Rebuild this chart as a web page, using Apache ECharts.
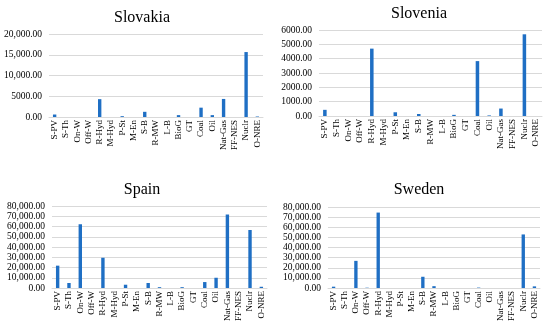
<!DOCTYPE html>
<html>
<head>
<meta charset="utf-8">
<script src="https://cdn.jsdelivr.net/npm/echarts@6/dist/echarts.min.js"></script>
<style>html,body{margin:0;padding:0;background:#fff}#c{width:550px;height:330px}</style>
</head>
<body>
<div id="c"></div>
<script>
const categories = ["S-PV","S-Th","On-W","Off-W","R-Hyd","M-Hyd","P-St","M-En","S-B","R-MW","L-B","BioG","GT","Coal","Oil","Nat-Gas","FF-NES","Nuclr","O-NRE"];
const slovakia = [600,0,0,0,4300,0,200,0,1250,0,0,450,0,2250,450,4350,0,15650,120];
const slovenia = [430,0,0,0,4700,0,260,0,140,0,0,80,0,3830,40,520,0,5700,0];
const spain = [21800,4900,62200,0,29500,0,3200,0,4900,800,0,800,0,5800,10000,71700,0,56600,1200];
const sweden = [1300,0,26800,300,74500,0,0,0,11100,1800,0,0,0,400,0,0,0,52900,1600];
const slovakiaTicks = ["0.00","5000.00","10,000.00","15,000.00","20,000.00"];
const sloveniaTicks = ["0.00","1000.00","2000.00","3000.00","4000.00","5000.00","6000.00"];
const spainTicks = ["0.00","10,000.00","20,000.00","30,000.00","40,000.00","50,000.00","60,000.00","70,000.00","80,000.00"];
const swedenTicks = ["0.00","10,000.00","20,000.00","30,000.00","40,000.00","50,000.00","60,000.00","70,000.00","80,000.00"];

const panels = [
  {name:"Slovakia", data:slovakia, ticks:slovakiaTicks, step:5000, grid:{left:49,top:34,width:214,height:83}, tx:137, ty:5},
  {name:"Slovenia", data:slovenia, ticks:sloveniaTicks, step:1000, grid:{left:319,top:30,width:223,height:86}, tx:414, ty:1},
  {name:"Spain", data:spain, ticks:spainTicks, step:10000, grid:{left:52,top:206,width:215,height:82}, tx:137, ty:177},
  {name:"Sweden", data:sweden, ticks:swedenTicks, step:10000, grid:{left:328,top:207,width:212,height:81}, tx:414, ty:177}
];
const font = "'Liberation Serif', 'Times New Roman', serif";
const chart = echarts.init(document.getElementById('c'), null, {renderer:'canvas'});
const option = {
  backgroundColor:'#fff',
  animation:false,
  title: panels.map(p=>({text:p.name, left:p.tx, top:p.ty, textAlign:'center',
    textStyle:{fontFamily:font, fontSize:16, fontWeight:'normal', color:'#000'}})),
  grid: panels.map(p=>Object.assign({containLabel:false}, p.grid)),
  xAxis: panels.map((p,i)=>({type:'category', gridIndex:i, data:categories,
    axisLine:{show:true, lineStyle:{color:'#d9d9d9'}}, axisTick:{show:false},
    axisLabel:{interval:0, rotate:90, margin:3, fontFamily:font, fontSize:9, color:'#000'}})),
  yAxis: panels.map((p,i)=>({type:'value', gridIndex:i, min:0, max:p.step*(p.ticks.length-1), interval:p.step,
    axisLine:{show:false}, axisTick:{show:false},
    splitLine:{lineStyle:{color:'#d9d9d9', width:1}},
    axisLabel:{margin:7, fontFamily:font, fontSize:9.5, color:'#000',
      formatter:(v)=>p.ticks[Math.round(v/p.step)]}})),
  series: panels.map((p,i)=>({type:'bar', xAxisIndex:i, yAxisIndex:i, data:p.data,
    barWidth:'30%', itemStyle:{color:'#1f6fc4'}}))
};
chart.setOption(option);
</script>
</body>
</html>
